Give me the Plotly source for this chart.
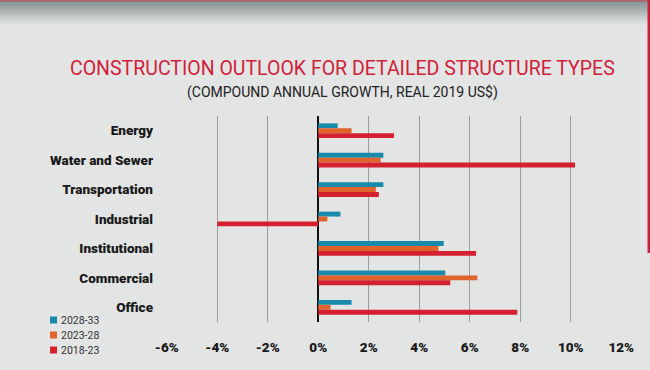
import plotly.graph_objects as go

categories = ["Energy", "Water and Sewer", "Transportation", "Industrial",
              "Institutional", "Commercial", "Office"]
series_names = ["2028-33", "2023-28", "2018-23"]
growth_2028_33 = [0.77, 2.58, 2.58, 0.88, 4.97, 5.03, 1.32]
growth_2023_28 = [1.32, 2.47, 2.28, 0.36, 4.76, 6.30, 0.49]
growth_2018_23 = [3.00, 10.17, 2.40, -4.00, 6.25, 5.23, 7.88]
tick_values = [-6, -4, -2, 0, 2, 4, 6, 8, 10, 12]
tick_labels = ["-6%", "-4%", "-2%", "0%", "2%", "4%", "6%", "8%", "10%", "12%"]
title_text = "CONSTRUCTION OUTLOOK FOR DETAILED STRUCTURE TYPES"
subtitle_text = "(COMPOUND ANNUAL GROWTH, REAL 2019 US$)"

colors = ["#1a8aab", "#e0632b", "#d5202f"]
series_values = [growth_2028_33, growth_2023_28, growth_2018_23]

W, H = 650, 370
ML, MR, MT, MB = 166, 28, 116, 48
PH = H - MT - MB
PW = W - ML - MR

def py(y_px):
    return (H - MB - y_px) / PH

def px(x_px):
    return (x_px - ML) / PW

FONT = "Roboto, Liberation Sans, sans-serif"

fig = go.Figure()
for name, vals, col in zip(series_names, series_values, colors):
    fig.add_trace(go.Bar(y=categories, x=vals, name=name, orientation="h",
                         marker=dict(color=col, line=dict(width=0))))

shapes = []
annotations = []
# top gradient band
top_cols = ["#a8686f", "#8e9999", "#939e9e", "#9aa4a4", "#a2abab", "#abb3b3",
            "#b4baba", "#bdc2c2", "#c6caca", "#cfd2d2", "#d7d9d9", "#dddfdf", "#e1e3e3"]
for i, c in enumerate(top_cols):
    y0 = i * 2
    shapes.append(dict(type="rect", xref="paper", yref="paper", layer="below",
                       x0=px(0), x1=px(W), y0=py(y0 + 2), y1=py(y0),
                       fillcolor=c, line=dict(width=0)))
# right red border
shapes.append(dict(type="rect", xref="paper", yref="paper",
                   x0=px(647.5), x1=px(650), y0=py(253), y1=py(0),
                   fillcolor="#c4243c", line=dict(width=0)))

# legend (manual, compact like the reference)
for i, (name, col) in enumerate(zip(series_names, colors)):
    cy = 320 + i * 15
    shapes.append(dict(type="rect", xref="paper", yref="paper",
                       x0=px(50), x1=px(57), y0=py(cy + 3.5), y1=py(cy - 3.5),
                       fillcolor=col, line=dict(width=0)))
    annotations.append(dict(text=name, xref="paper", yref="paper", x=px(58.5), y=py(cy),
                            xanchor="left", yanchor="middle", showarrow=False,
                            font=dict(family=FONT, size=10.5, color="#333333")))

annotations += [
    dict(text=title_text, xref="paper", yref="paper", x=px(342), y=py(68),
         xanchor="center", yanchor="middle", showarrow=False,
         font=dict(family=FONT, size=19.5, color="#d0213a")),
    dict(text=subtitle_text, xref="paper", yref="paper", x=px(342.5), y=py(92),
         xanchor="center", yanchor="middle", showarrow=False,
         font=dict(family=FONT, size=14, color="#222222")),
]

fig.update_layout(
    width=W, height=H,
    margin=dict(l=ML, r=MR, t=MT, b=MB, autoexpand=False),
    paper_bgcolor="#e3e4e4", plot_bgcolor="#e3e4e4",
    barmode="group", bargap=0.5, bargroupgap=0,
    showlegend=False,
    xaxis=dict(range=[-6.03, 12.03], tickvals=tick_values, ticktext=tick_labels,
               showgrid=True, gridcolor="#9c9c9c", gridwidth=1,
               zeroline=True, zerolinecolor="#111111", zerolinewidth=2,
               showline=False, ticks="", ticklabelstandoff=15, automargin=False,
               tickfont=dict(family=FONT, size=13.5, color="#1a1a1a", weight=900),
               fixedrange=True),
    yaxis=dict(categoryorder="array", categoryarray=categories, autorange="reversed",
               showgrid=False, zeroline=False, showline=False, ticks="",
               ticklabelstandoff=12, automargin=False,
               tickfont=dict(family=FONT, size=13.5, color="#1a1a1a", weight=900)),
    shapes=shapes,
    annotations=annotations,
)

fig.write_html("out.html", config={"displayModeBar": False},
               post_script="document.body.style.margin='0';")
